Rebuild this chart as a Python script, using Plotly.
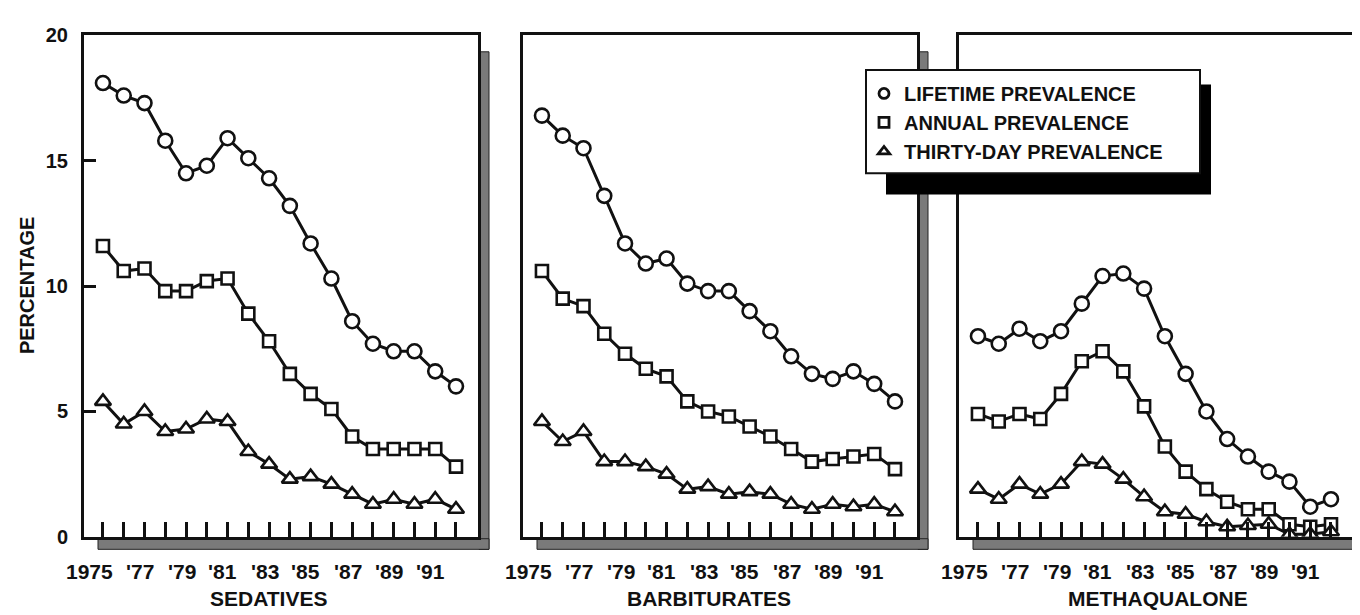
import plotly.graph_objects as go

W, H = 1360, 615

years = list(range(1975, 1993))
year_labels = ["1975", "'77", "'79", "'81", "'83", "'85", "'87", "'89", "'91"]
label_years = [1975, 1977, 1979, 1981, 1983, 1985, 1987, 1989, 1991]

panel_names = ["SEDATIVES", "BARBITURATES", "METHAQUALONE"]
series_names = ["LIFETIME PREVALENCE", "ANNUAL PREVALENCE", "THIRTY-DAY PREVALENCE"]

# values (percent)
sed_lifetime = [18.1, 17.6, 17.3, 15.8, 14.5, 14.8, 15.9, 15.1, 14.3, 13.2, 11.7, 10.3, 8.6, 7.7, 7.4, 7.4, 6.6, 6.0]
sed_annual = [11.6, 10.6, 10.7, 9.8, 9.8, 10.2, 10.3, 8.9, 7.8, 6.5, 5.7, 5.1, 4.0, 3.5, 3.5, 3.5, 3.5, 2.8]
sed_30day = [5.4, 4.5, 5.0, 4.2, 4.3, 4.7, 4.6, 3.4, 2.9, 2.3, 2.4, 2.1, 1.7, 1.3, 1.5, 1.3, 1.5, 1.1]

bar_lifetime = [16.8, 16.0, 15.5, 13.6, 11.7, 10.9, 11.1, 10.1, 9.8, 9.8, 9.0, 8.2, 7.2, 6.5, 6.3, 6.6, 6.1, 5.4]
bar_annual = [10.6, 9.5, 9.2, 8.1, 7.3, 6.7, 6.4, 5.4, 5.0, 4.8, 4.4, 4.0, 3.5, 3.0, 3.1, 3.2, 3.3, 2.7]
bar_30day = [4.6, 3.8, 4.2, 3.0, 3.0, 2.8, 2.5, 1.9, 2.0, 1.7, 1.8, 1.7, 1.3, 1.1, 1.3, 1.2, 1.3, 1.0]

meth_lifetime = [8.0, 7.7, 8.3, 7.8, 8.2, 9.3, 10.4, 10.5, 9.9, 8.0, 6.5, 5.0, 3.9, 3.2, 2.6, 2.2, 1.2, 1.5]
meth_annual = [4.9, 4.6, 4.9, 4.7, 5.7, 7.0, 7.4, 6.6, 5.2, 3.6, 2.6, 1.9, 1.4, 1.1, 1.1, 0.5, 0.4, 0.5]
meth_30day = [1.9, 1.5, 2.1, 1.7, 2.1, 3.0, 2.9, 2.3, 1.6, 1.0, 0.9, 0.6, 0.4, 0.45, 0.5, 0.1, 0.1, 0.2]

panels = [
    [sed_lifetime, sed_annual, sed_30day],
    [bar_lifetime, bar_annual, bar_30day],
    [meth_lifetime, meth_annual, meth_30day],
]
symbols = ["circle", "square", "triangle-up"]
sizes = [14, 12, 14]

FONT = "Liberation Sans, Arial, sans-serif"
INK = "#111111"


def px(x):
    return x / W


def py(y):
    return 1 - y / H


panel_left = [76, 515, 951]
panel_w = 394
top, bottom = 17, 537
xr = [1974.087, 1993.06]

fig = go.Figure()

for i, series in enumerate(panels):
    ax = "" if i == 0 else str(i + 1)
    for j, vals in enumerate(series):
        fig.add_trace(go.Scatter(
            x=years, y=vals, mode="lines+markers",
            xaxis="x" + ax, yaxis="y" + ax, showlegend=False,
            line=dict(color=INK, width=3),
            marker=dict(symbol=symbols[j], size=sizes[j], color="white",
                        line=dict(color=INK, width=2.6)),
        ))

# legend entries (markers only)
for j, name in enumerate(series_names):
    fig.add_trace(go.Scatter(
        x=[None], y=[None], mode="markers", name=name,
        marker=dict(symbol=symbols[j], size=10, color="white",
                    line=dict(color=INK, width=2.8)),
    ))

layout = dict(
    width=W, height=H,
    margin=dict(l=0, r=0, t=0, b=0),
    paper_bgcolor="white", plot_bgcolor="white",
    font=dict(family=FONT, size=21, color=INK, weight="bold"),
    showlegend=True,
    legend=dict(x=px(856), y=py(57), xanchor="left", yanchor="top",
                bgcolor="rgba(0,0,0,0)", borderwidth=0,
                font=dict(size=20, color=INK, weight="bold"), itemwidth=30,
                tracegroupgap=0),
)

annotations = []
shapes = []

for i in range(3):
    ax = "" if i == 0 else str(i + 1)
    l = panel_left[i]
    layout["xaxis" + ax] = dict(
        domain=[px(l), px(l + panel_w)], range=xr, anchor="y" + ax,
        showgrid=False, zeroline=False, showline=True, mirror=True,
        linecolor=INK, linewidth=3,
        ticks="inside", tickvals=years, ticklen=15, tickwidth=3, tickcolor=INK,
        showticklabels=False, fixedrange=True,
    )
    layout["yaxis" + ax] = dict(
        domain=[py(bottom), py(top)], range=[0, 20], anchor="x" + ax,
        showgrid=False, zeroline=False, showline=True, mirror=True,
        linecolor=INK, linewidth=3,
        ticks="inside" if i == 0 else "", tickvals=[0, 5, 10, 15, 20],
        ticklen=12, tickwidth=2.5, tickcolor=INK,
        showticklabels=(i == 0), ticklabelstandoff=9,
        tickfont=dict(size=20, weight="bold"), fixedrange=True,
    )
    # year labels: last two digits centred on the tick
    for yr, txt in zip(label_years, year_labels):
        annotations.append(dict(
            x=yr + 0.56, y=py(573), xref="x" + ax, yref="paper",
            text=txt, showarrow=False, xanchor="right", yanchor="middle",
            font=dict(size=21, weight="bold"),
        ))
    # hatched drop shadow on right and bottom of each frame
    r = l + panel_w
    for x0, y0, x1, y1 in [(r + 1, 34, r + 11, 550), (l + 14, bottom + 2, r + 11, 550)]:
        shapes.append(dict(
            type="rect", xref="paper", yref="paper", layer="below",
            x0=px(x0), x1=px(x1), y0=py(y1), y1=py(y0),
            fillcolor="#7a7a7a", line=dict(color="#222222", width=1),
        ))

for name, cx in zip(panel_names, [260, 701, 1150]):
    annotations.append(dict(
        x=px(cx), y=py(601), xref="paper", yref="paper", text=name,
        showarrow=False, xanchor="center", yanchor="middle",
        font=dict(size=21, weight="bold"),
    ))

annotations.append(dict(
    x=px(19), y=py(277), xref="paper", yref="paper", text="PERCENTAGE",
    textangle=-90, showarrow=False, xanchor="center", yanchor="middle",
    font=dict(size=20, weight="bold"),
))

# legend box with solid black drop shadow
shapes.append(dict(type="rect", xref="paper", yref="paper", layer="above",
                   x0=px(878), x1=px(1203), y0=py(182), y1=py(68),
                   fillcolor="black", line=dict(width=0)))
shapes.append(dict(type="rect", xref="paper", yref="paper", layer="above",
                   x0=px(858), x1=px(1192), y0=py(160), y1=py(53),
                   fillcolor="white", line=dict(color=INK, width=2)))

layout["annotations"] = annotations
layout["shapes"] = shapes
fig.update_layout(**layout)

fig.write_html("out.html")
